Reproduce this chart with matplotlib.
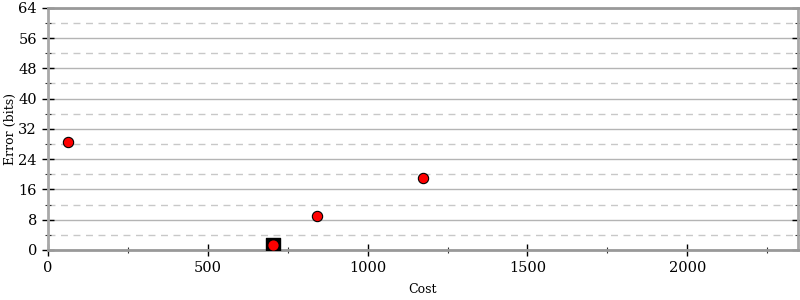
import matplotlib
matplotlib.use("Agg")
import matplotlib.pyplot as plt
from matplotlib.ticker import MultipleLocator

plt.rcParams['font.family'] = 'DejaVu Serif'

# data
cost = [63, 843, 1173]
error = [28.6, 9.0, 19.0]
best_cost = [704]
best_error = [1.3]

fig = plt.figure(figsize=(8, 3), dpi=100)
ax = fig.add_axes([0.06, 0.167, 0.937, 0.807])

ax.set_xlim(0, 2345)
ax.set_ylim(0, 64)
ax.xaxis.set_major_locator(MultipleLocator(500))
ax.xaxis.set_minor_locator(MultipleLocator(250))
ax.yaxis.set_major_locator(MultipleLocator(8))
ax.yaxis.set_minor_locator(MultipleLocator(4))

ax.grid(True, which='major', axis='y', color='#b4b4b4', lw=1, ls='-')
ax.grid(True, which='minor', axis='y', color='#c8c8c8', lw=1, ls=(0, (5, 4)))
ax.set_axisbelow(True)

for s in ax.spines.values():
    s.set_color('#a8a8a8')
    s.set_linewidth(2)
ax.spines['bottom'].set_color('#999999')
ax.spines['top'].set_color('#999999')

ax.tick_params(which='major', direction='inout', length=9, width=1, labelsize=10.5,
               right=True, color='black')
ax.tick_params(which='minor', direction='inout', length=5, width=0.8,
               right=True, color='#333333')
ax.tick_params(axis='x', which='both', top=False)

ax.scatter(best_cost, best_error, marker='s', s=110, color='black', zorder=3)
ax.scatter(best_cost, best_error, marker='o', s=40, color='red', zorder=4)
ax.scatter(cost, error, marker='o', s=55, color='red', edgecolors='black', linewidths=0.8, zorder=4)

ax.set_xlabel('Cost', fontsize=9, labelpad=6)
ax.set_ylabel('Error (bits)', fontsize=9, labelpad=1)

fig.savefig('out.png', dpi=100)
